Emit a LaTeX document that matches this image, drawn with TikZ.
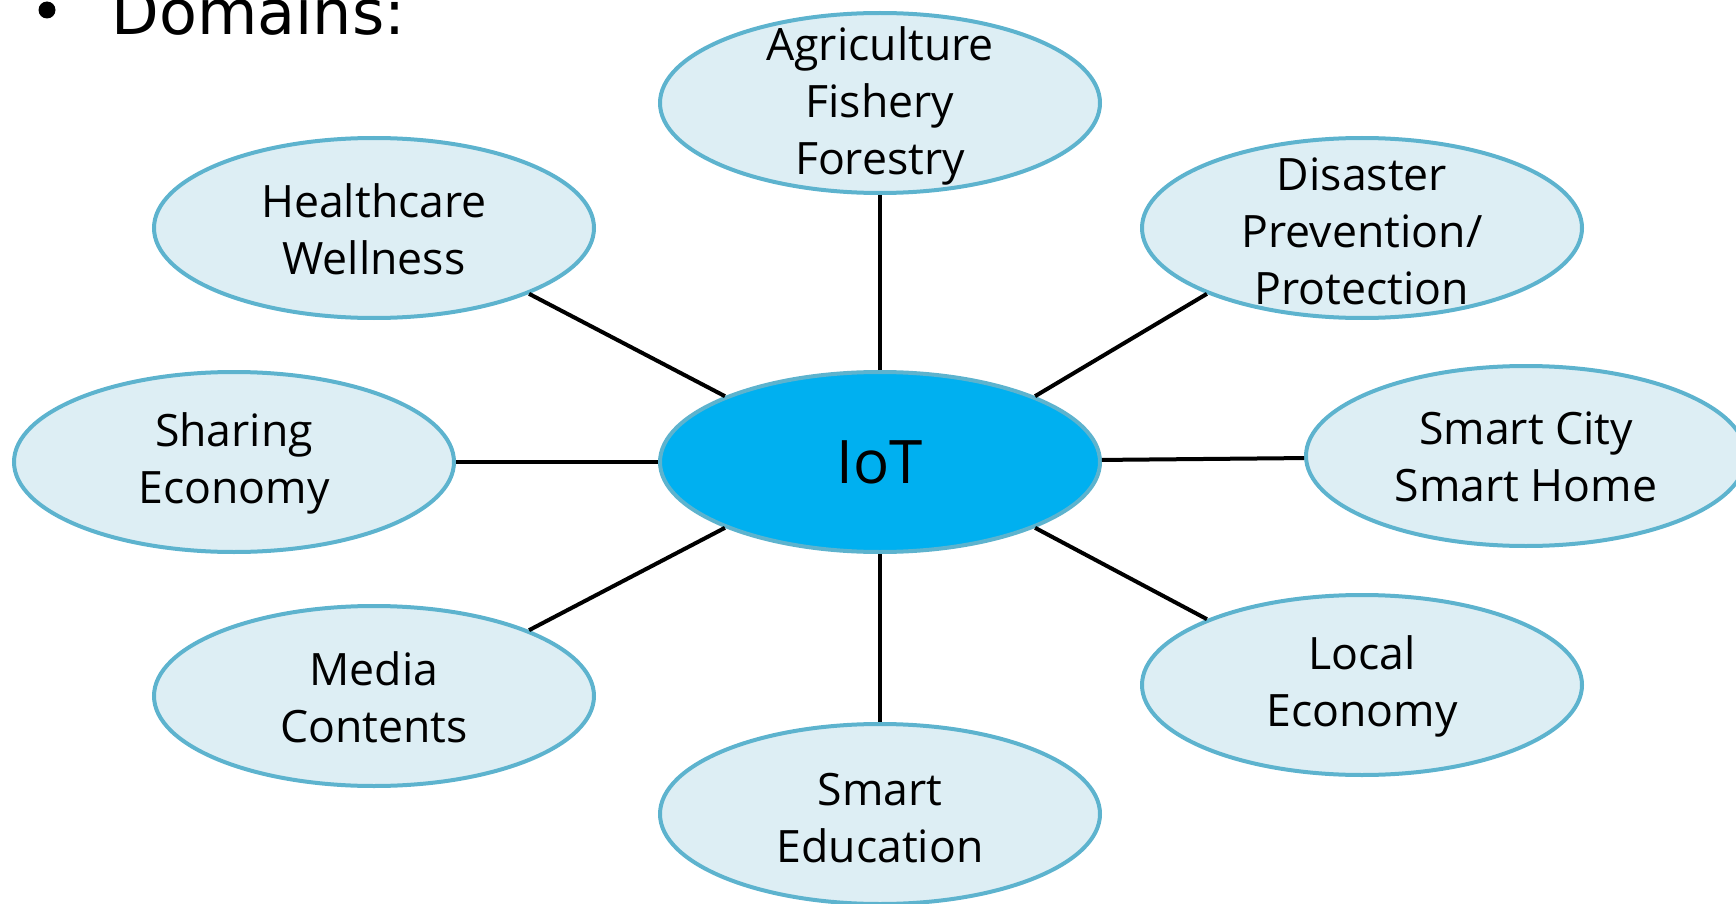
\documentclass[tikz,border=0pt]{standalone}
\usepackage{fontspec}
\setmainfont{Open Sans}
\newfontfamily\headfont{DejaVu Sans}
\usetikzlibrary{shapes.geometric}
\definecolor{bubblefill}{HTML}{DDEEF4}
\definecolor{bubbleline}{HTML}{5DB3CE}
\definecolor{corefill}{HTML}{00B0F0}
\tikzset{
  bubble/.style={ellipse, draw=bubbleline, line width=2pt, fill=bubblefill,
    minimum width=220pt, minimum height=90pt, inner sep=0pt},
  core/.style={bubble, fill=corefill},
  label text/.style={align=center, font=\fontsize{22.3}{28.5}\selectfont, inner sep=0pt},
  link/.style={line width=2pt, black},
}
\begin{document}
\begin{tikzpicture}[x=0.5pt, y=-0.5pt]
\useasboundingbox (0,0) rectangle (1736,904);

% heading
\node[circle, fill=black, minimum size=8.5pt, inner sep=0pt] (dot) at (47,10) {};
\node[anchor=base west, inner sep=0pt, font=\headfont\fontsize{31}{36}\selectfont] (head) at (111,35) {Domains:};

% hub and satellites
\node[core] (iot) at (880,462) {};
\node[bubble] (agr) at (880,103) {};
\node[bubble] (hea) at (374,228) {};
\node[bubble] (dis) at (1362,228) {};
\node[bubble] (sha) at (234,462) {};
\node[bubble] (cit) at (1526,456) {};
\node[bubble] (med) at (374,696) {};
\node[bubble] (loc) at (1362,685) {};
\node[bubble] (edu) at (880,814) {};

% connectors
\draw[link] (iot) -- (agr);
\draw[link] (iot) -- (sha);
\draw[link] (iot) -- (cit);
\draw[link] (iot) -- (edu);
\draw[link] (iot.157) -- (hea.-23);
\draw[link] (iot.23) -- (dis.203);
\draw[link] (iot.203) -- (med.23);
\draw[link] (iot.-23) -- (loc.157);

% labels
\node[label text, font=\fontsize{30}{36}\selectfont] (iot-t) at (iot) {IoT};
\node[label text] (agr-t) at (880,106) {Agriculture\\Fishery\\Forestry};
\node[label text] (hea-t) at (374,229) {Healthcare\\Wellness};
\node[label text] (dis-t) at (1362,231) {Disaster\\Prevention/\\Protection};
\node[label text] (sha-t) at (234,463) {Sharing\\Economy};
\node[label text] (cit-t) at (1526,457) {Smart City\\Smart Home};
\node[label text] (med-t) at (374,697) {Media\\Contents};
\node[label text] (loc-t) at (1362,686) {Local\\Economy};
\node[label text] (edu-t) at (880,818) {Smart\\Education};
\end{tikzpicture}
\end{document}
